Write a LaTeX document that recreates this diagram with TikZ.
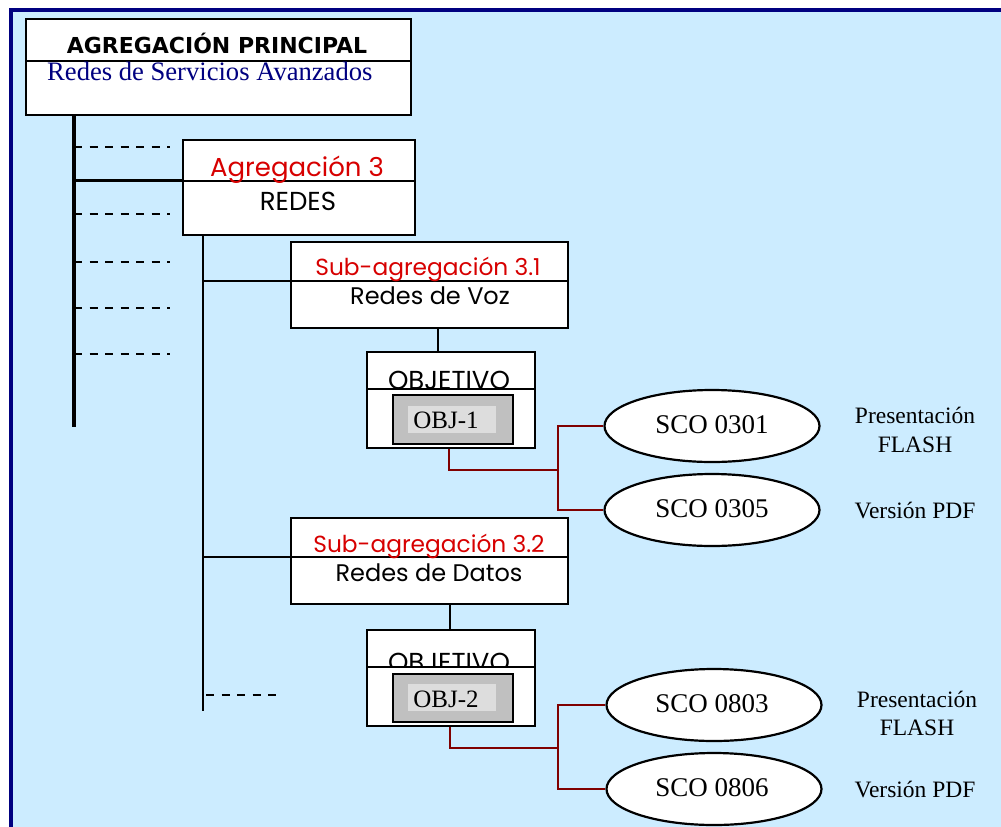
\documentclass[tikz,border=0pt]{standalone}
\usepackage{fontspec}
\setmainfont{Liberation Serif}
\newfontfamily\gothicfont{Poppins}
\newfontfamily\headfont{DejaVu Sans}
\usetikzlibrary{shapes.geometric}

\definecolor{framenavy}{RGB}{0,0,128}
\definecolor{paneblue}{RGB}{204,236,255}
\definecolor{labelred}{RGB}{215,0,0}
\definecolor{linkred}{RGB}{128,0,0}
\definecolor{objgray}{RGB}{192,192,192}
\definecolor{objlight}{RGB}{221,221,221}

\newcommand\gsize[1]{\gothicfont\fontsize{#1}{#1}\selectfont}

\tikzset{
  box/.style={draw=black, line width=2.4pt, fill=white, inner sep=0pt, anchor=north west},
  divider/.style={draw=black, line width=2.4pt},
  tree/.style={draw=black, line width=3.5pt},
  treethin/.style={draw=black, line width=2pt},
  dashlink/.style={draw=black, line width=2.4pt, dash pattern=on 8pt off 7.5pt},
  thinlink/.style={draw=black, line width=2pt},
  redlink/.style={draw=linkred, line width=2.4pt},
  txt/.style={anchor=base, inner sep=0pt},
  headtxt/.style={txt, font=\headfont\bfseries\fontsize{22}{24}\selectfont},
  navytxt/.style={txt, text=framenavy, font=\fontsize{26.6}{28}\selectfont},
  redtxt/.style={txt, text=labelred},
  blacktxt/.style={txt, text=black},
  objcode/.style={txt, text=black, font=\fontsize{25}{27}\selectfont},
  scoshape/.style={ellipse, draw=black, line width=2.2pt, fill=white, minimum width=215pt, minimum height=72pt, inner sep=0pt},
  scotxt/.style={txt, font=\fontsize{27}{29}\selectfont},
  notetxt/.style={txt, font=\fontsize{23.5}{25}\selectfont},
  grayframe/.style={draw=black, line width=2.4pt, fill=objgray, minimum width=120pt, anchor=north west, inner sep=0pt},
  graytag/.style={fill=objlight, minimum width=88pt, minimum height=27pt, anchor=north west, inner sep=0pt},
}

\begin{document}
\begin{tikzpicture}[x=1pt, y=-1pt]
\useasboundingbox (0,0) rectangle (1001,827);
% page and framed panel
\fill[white] (0,0) rectangle (1001,827);
\fill[framenavy] (9,8) rectangle (1001,827);
\fill[paneblue] (13,12) rectangle (1001,827);

% ---- main aggregation ----
\node[box, minimum width=385pt, minimum height=96pt] (main) at (25,18) {};
\draw[divider] (25,61) -- (410,61);
\node[headtxt] (mainhead) at (217,53) {AGREGACIÓN PRINCIPAL};
\node[navytxt, anchor=base west] (mainname) at (47,80) {Redes de Servicios Avanzados};

% trunk with dashed branches
\coordinate (trunkend) at (74,427);
\draw[tree] (main.south -| trunkend) -- (trunkend);
\foreach \yy/\nm in {147/d1, 214/d2, 262/d3, 308/d4, 354/d5}{
  \coordinate (\nm) at (170,\yy);
  \draw[dashlink] (74,\yy) -- (\nm);
}

% ---- aggregation 3 ----
\node[box, minimum width=232pt, minimum height=95pt] (ag3) at (182,139) {};
\draw[divider] (182,181) -- (414,181);
\node[redtxt, font=\gsize{26}] (ag3head) at (297,176) {Agregación 3};
\node[blacktxt, font=\gsize{26}] (ag3name) at (298,210) {REDES};
\draw[line width=3pt] (74,180) -- (ag3.west |- 0,180);

% branch trunk of aggregation 3
\coordinate (ag3trunk) at (203,711);
\draw[treethin] (ag3.south -| ag3trunk) -- (ag3trunk);
\coordinate (d6) at (278,695);
\draw[dashlink, line width=2pt] (206,695) -- (d6);

% ---- sub-aggregation 3.1 ----
\node[box, minimum width=277pt, minimum height=86pt] (sub1) at (290,241) {};
\draw[divider] (290,281) -- (567,281);
\node[redtxt, font=\gsize{23.3}] (sub1head) at (428,275) {Sub-agregación 3.1};
\node[blacktxt, font=\gsize{24}] (sub1name) at (430,304) {Redes de Voz};
\draw[thinlink] (203,281) -- (sub1.west |- 0,281);

% objective 1
\node[box, minimum width=168pt, minimum height=96pt] (obj1) at (366,351) {};
\node[blacktxt, font=\gsize{26}] (obj1head) at (449,389) {OBJETIVO};
\fill[white] (367.5,390) rectangle (532.5,445.5);
\draw[divider] (366,389) -- (534,389);
\node[grayframe, minimum height=49pt] (obj1box) at (392,394) {};
\node[graytag] (obj1tag) at (408,406) {};
\node[objcode] (obj1code) at (446,428) {OBJ-1};
\draw[thinlink] (sub1.south -| 438,0) -- (obj1.north -| 438,0);

% learning objects of objective 1
\node[scoshape] (sco0301) at (712,426) {};
\node[scotxt] at (712,433) {SCO 0301};
\node[scoshape] (sco0305) at (712,510) {};
\node[scotxt] at (712,517) {SCO 0305};
\node[notetxt] (n0301a) at (915,423) {Presentación};
\node[notetxt] (n0301b) at (915,452) {FLASH};
\node[notetxt] (n0305) at (915,518) {Versión PDF};
\coordinate (fork1) at (558,470);
\draw[redlink] (obj1.south -| 449,0) |- (fork1);
\draw[redlink] (sco0301.west) -| (fork1) |- (sco0305.west);

% ---- sub-aggregation 3.2 ----
\node[box, minimum width=277pt, minimum height=86pt] (sub2) at (290,517) {};
\draw[divider] (290,557) -- (567,557);
\node[redtxt, font=\gsize{23.3}] (sub2head) at (429,552) {Sub-agregación 3.2};
\node[blacktxt, font=\gsize{24}] (sub2name) at (429,581) {Redes de Datos};
\draw[thinlink] (203,557) -- (sub2.west |- 0,557);

% objective 2
\node[box, minimum width=168pt, minimum height=96pt] (obj2) at (366,629) {};
\node[blacktxt, font=\gsize{26}] (obj2head) at (449,671) {OBJETIVO};
\fill[white] (367.5,668) rectangle (532.5,723.5);
\draw[divider] (366,667) -- (534,667);
\node[grayframe, minimum height=48pt] (obj2box) at (392,673) {};
\node[graytag] (obj2tag) at (408,684) {};
\node[objcode] (obj2code) at (446,707) {OBJ-2};
\draw[thinlink] (sub2.south -| 450,0) -- (obj2.north -| 450,0);

% learning objects of objective 2
\node[scoshape] (sco0803) at (714,705) {};
\node[scotxt] at (712,712) {SCO 0803};
\node[scoshape] (sco0806) at (714,789) {};
\node[scotxt] at (712,796) {SCO 0806};
\node[notetxt] (n0803a) at (917,707) {Presentación};
\node[notetxt] (n0803b) at (917,735) {FLASH};
\node[notetxt] (n0806) at (915,797) {Versión PDF};
\coordinate (fork2) at (558,748);
\draw[redlink] (obj2.south -| 450,0) |- (fork2);
\draw[redlink] (sco0803.west) -| (fork2) |- (sco0806.west);
\end{tikzpicture}
\end{document}
